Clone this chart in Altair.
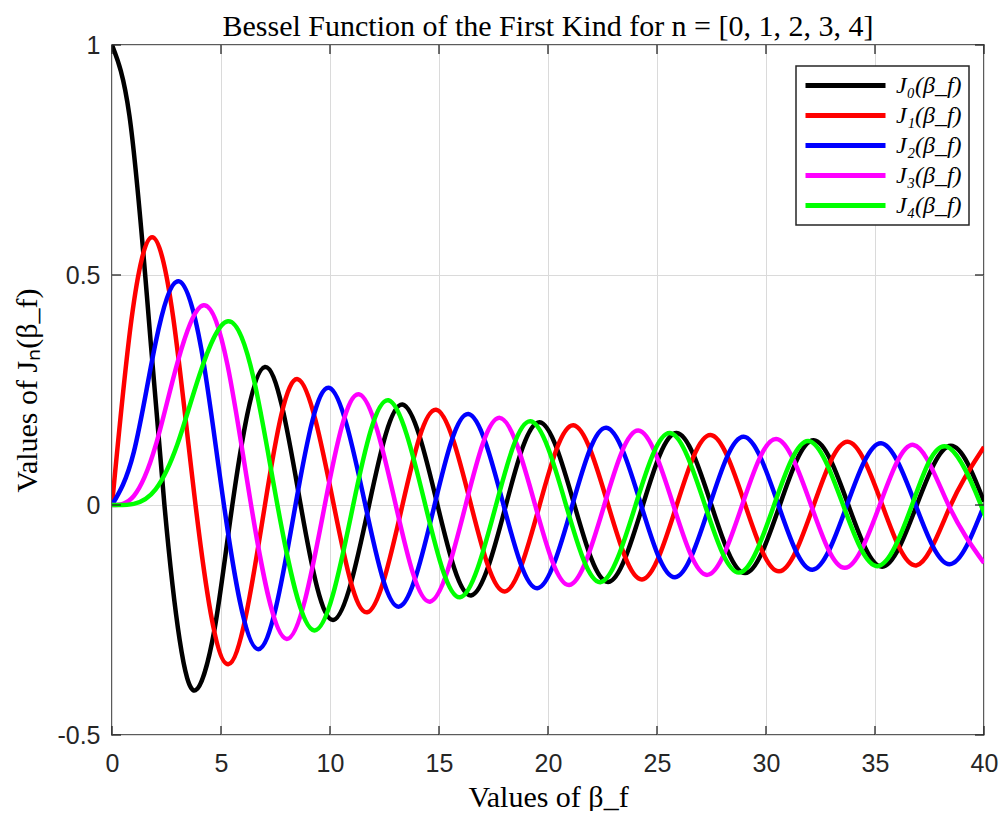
import altair as alt
import pandas as pd

# Knot points (zeros, extrema and a few shoulder points)
j0_x = [0, 0.8, 1.6, 2.4048, 3.1, 3.8317, 4.7, 5.5201, 7.0156, 8.6537, 10.1735, 11.7915, 13.3237,
        14.9309, 16.4706, 18.0711, 19.6159, 21.2116, 22.7601, 24.3525, 25.9037, 27.4935, 29.0468,
        30.6346, 32.1897, 33.7758, 35.3323, 36.9171, 38.4748, 40.0]
j0_y = [1.0, 0.8463, 0.4554, 0.0, -0.2921, -0.4028, -0.2709, 0.0, 0.3001, 0.0, -0.2497, 0.0, 0.2184,
        0.0, -0.1965, 0.0, 0.1801, 0.0, -0.1672, 0.0, 0.1567, 0.0, -0.1480,
        0.0, 0.1406, 0.0, -0.1342, 0.0, 0.1286, 0.0074]

j1_x = [0, 0.9, 1.8412, 2.8, 3.8317, 5.3314, 7.0156, 8.5363, 10.1735, 11.7060, 13.3237, 14.8636,
        16.4706, 18.0155, 19.6159, 21.1644, 22.7601, 24.3113, 25.9037, 27.4571, 29.0468, 30.6019,
        32.1897, 33.7462, 35.3323, 36.8900, 38.4748, 40.0]
j1_y = [0.0, 0.4059, 0.5819, 0.4100, 0.0, -0.3461, 0.0, 0.2733, 0.0, -0.2333, 0.0, 0.2070,
        0.0, -0.1880, 0.0, 0.1733, 0.0, -0.1617, 0.0, 0.1522, 0.0, -0.1442,
        0.0, 0.1373, 0.0, -0.1313, 0.0, 0.1260]

j2_x = [0, 1.0, 2.0, 3.0542, 4.1, 5.1356, 6.7061, 8.4172, 9.9695, 11.6198, 13.1704, 14.7960,
        16.3475, 17.9598, 19.5129, 21.1170, 22.6716, 24.2701, 25.8260, 27.4206, 28.9777, 30.5692,
        32.1273, 33.7165, 35.2755, 36.8628, 38.4225, 40.0]
j2_y = [0.0, 0.1149, 0.3528, 0.4865, 0.3382, 0.0, -0.3135, 0.0, 0.2547, 0.0, -0.2209, 0.0,
        0.1979, 0.0, -0.1810, 0.0, 0.1678, 0.0, -0.1571, 0.0, 0.1483, 0.0,
        -0.1408, 0.0, 0.1344, 0.0, -0.1287, -0.0011]

j3_x = [0, 1.0, 2.0, 3.0, 4.2012, 5.3, 6.3802, 8.0152, 9.7610, 11.3459, 13.0152, 14.5859,
        16.2235, 17.7888, 19.4094, 20.9724, 22.5827, 24.1469, 25.7482, 27.3101, 28.9084, 30.4676,
        32.0649, 33.6179, 35.2187, 36.7672, 38.3705, 40.0]
j3_y = [0.0, 0.0196, 0.1289, 0.3091, 0.4344, 0.3040, 0.0, -0.2912, 0.0, 0.2406, 0.0, -0.2101,
        0.0, 0.1894, 0.0, -0.1739, 0.0, 0.1617, 0.0, -0.1519, 0.0, 0.1436,
        0.0, -0.1366, 0.0, 0.1306, 0.0, -0.1261]

j4_x = [0, 1.0, 2.0, 3.0, 4.0, 5.3176, 6.5, 7.5883, 9.2824, 11.0647, 12.6819, 14.3725, 15.9641,
        17.6160, 19.1960, 20.8269, 22.4010, 24.0190, 25.5898, 27.1991, 28.7678, 30.3710, 31.9385,
        33.5371, 35.1039, 36.6990, 38.2654, 39.8576, 40.0]
j4_y = [0.0, 0.0025, 0.0340, 0.1320, 0.2811, 0.3996, 0.2747, 0.0, -0.2727, 0.0, 0.2276, 0.0, -0.2007,
        0.0, 0.1819, 0.0, -0.1677, 0.0, 0.1563, 0.0, -0.1470, 0.0, 0.1393,
        0.0, -0.1330, 0.0, 0.1274, 0.0, -0.0178]

names = ["J₀(β_f)", "J₁(β_f)", "J₂(β_f)", "J₃(β_f)", "J₄(β_f)"]
colors = ["#000000", "#ff0000", "#0000ff", "#ff00ff", "#00ff00"]
x_ticks = [0, 5, 10, 15, 20, 25, 30, 35, 40]
y_ticks = [-0.5, 0, 0.5, 1]

rows = []
for k, (name, xs, ys) in enumerate(zip(names, [j0_x, j1_x, j2_x, j3_x, j4_x],
                                        [j0_y, j1_y, j2_y, j3_y, j4_y])):
    for i, (xv, yv) in enumerate(zip(xs, ys)):
        rows.append({"series": name, "k": k, "x": xv, "y": yv, "i": i})
df = pd.DataFrame(rows)

W, H = 872, 690
serif = "Liberation Serif"
sans = "Liberation Sans"
xscale = alt.Scale(domain=[0, 40], nice=False, zero=False)
yscale = alt.Scale(domain=[-0.5, 1], nice=False, zero=False)

xaxis = alt.Axis(values=x_ticks, title="Values of β_f", grid=True, ticks=False,
                 domain=False, labelFont=sans, labelFontSize=25, labelColor="#262626",
                 labelPadding=16, labelFlush=False, labelExpr="'' + datum.value",
                 titleFont=serif, titleFontSize=30,
                 titleFontWeight="normal", titleColor="#000000", titlePadding=6,
                 gridColor="#dadada", gridWidth=1)
yaxis = alt.Axis(values=y_ticks, title="Values of Jₙ(β_f)", grid=True, ticks=False,
                 domain=False, labelFont=sans, labelFontSize=25, labelColor="#262626",
                 labelPadding=12, labelFlush=False, labelExpr="'' + datum.value",
                 titleFont=serif, titleFontSize=30, titleFontWeight="normal",
                 titleColor="#000000", titlePadding=14,
                 gridColor="#dadada", gridWidth=1)

lines = alt.Chart(df).mark_line(strokeWidth=4.5, interpolate="natural", clip=True).encode(
    x=alt.X("x:Q", scale=xscale, axis=xaxis),
    y=alt.Y("y:Q", scale=yscale, axis=yaxis),
    color=alt.Color("series:N", scale=alt.Scale(domain=names, range=colors),
                    legend=alt.Legend(title=None, orient="none", legendX=684, legendY=21,
                                      symbolType="stroke", symbolSize=6400,
                                      symbolStrokeWidth=5, clipHeight=25, rowPadding=5,
                                      labelFont=serif, labelFontStyle="italic",
                                      labelFontSize=24, labelColor="#000000", labelOffset=8,
                                      padding=7, strokeColor="#262626", fillColor="#ffffff")),
    detail="k:O",
    order="i:Q",
)

xt = pd.DataFrame({"x": x_ticks})
yt = pd.DataFrame({"y": y_ticks})
tick_style = dict(color="#262626", strokeWidth=1.3)
xt_top = alt.Chart(xt).mark_rule(**tick_style).encode(
    x=alt.X("x:Q", scale=xscale, axis=xaxis), y=alt.value(0), y2=alt.value(9))
xt_bot = alt.Chart(xt).mark_rule(**tick_style).encode(
    x=alt.X("x:Q", scale=xscale, axis=xaxis), y=alt.value(H), y2=alt.value(H - 9))
yt_left = alt.Chart(yt).mark_rule(**tick_style).encode(
    y=alt.Y("y:Q", scale=yscale, axis=yaxis), x=alt.value(0), x2=alt.value(9))
yt_right = alt.Chart(yt).mark_rule(**tick_style).encode(
    y=alt.Y("y:Q", scale=yscale, axis=yaxis), x=alt.value(W), x2=alt.value(W - 9))

chart = alt.layer(lines, xt_top, xt_bot, yt_left, yt_right).properties(
    width=W, height=H,
    padding={"left": 104, "top": 37, "right": 15, "bottom": 76},
    autosize=alt.AutoSizeParams(type="none"),
    title=alt.TitleParams(text="Bessel Function of the First Kind for n = [0, 1, 2, 3, 4]",
                          font=serif, fontSize=30, fontWeight="normal", color="#000000",
                          offset=6, dy=15, anchor="middle"),
).configure_view(stroke="#262626", strokeWidth=1.5).configure_legend(strokeWidth=1.5)

chart.save("out.html", embed_options={"renderer": "svg", "actions": False})
